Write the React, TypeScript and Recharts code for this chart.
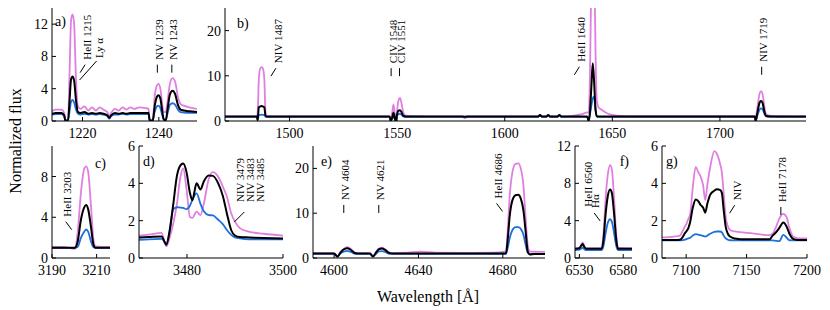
import React from 'react';
import { LineChart, Line, XAxis, YAxis, ReferenceDot } from 'recharts';

const FONT = '"Liberation Serif", "Times New Roman", "DejaVu Serif", serif';
const PINK = '#e07fe0';
const BLUE = '#1f6fdc';
const BLACK = '#000000';

// ---------- panel a ----------
const aX = [1212, 1213, 1214.5, 1215.2, 1215.5, 1216.2, 1216.6, 1217.0, 1217.4, 1217.8, 1218.3, 1218.8, 1219.5, 1220.5, 1221.5, 1222.5, 1223.5, 1224.5, 1225.5, 1226.5, 1227.0, 1227.5, 1228.5, 1229.5, 1230.5, 1231.5, 1232.5, 1233.5, 1235, 1236.5, 1237.3, 1237.6, 1238.4, 1238.9, 1239.5, 1239.9, 1240.4, 1240.9, 1241.3, 1241.8, 1242.3, 1242.9, 1243.6, 1244.3, 1245, 1245.7, 1246.5, 1248, 1250];
const aPink = [1.2, 1.4, 1.4, 1.0, 0.05, 0.05, 6, 12.5, 13.2, 12.0, 5, 1.8, 1.5, 1.8, 1.3, 1.7, 1.3, 1.7, 1.4, 1.1, 0.6, 1.0, 1.5, 1.3, 1.7, 1.4, 1.7, 1.5, 1.7, 1.6, 1.5, 0.05, 0.05, 3, 4.4, 4.6, 4.0, 2.0, 1.1, 1.1, 2.5, 4.6, 5.3, 4.8, 3.0, 2.1, 1.9, 1.7, 1.5];
const aBlack = [0.9, 1.0, 1.0, 0.7, 0.05, 0.05, 2.5, 5.2, 5.5, 5.0, 2.5, 1.1, 1.0, 1.1, 0.9, 1.0, 0.9, 1.0, 0.9, 0.7, 0.4, 0.7, 1.0, 0.9, 1.0, 0.9, 1.0, 1.0, 1.0, 1.0, 1.0, 0.05, 0.05, 1.8, 3.0, 3.2, 2.8, 1.2, 0.2, 0.1, 1.5, 3.3, 3.75, 3.3, 2.0, 1.4, 1.3, 1.2, 1.1];
const aBlue = [0.8, 0.85, 0.85, 0.6, 0.05, 0.05, 1.2, 2.4, 2.6, 2.3, 1.4, 0.9, 0.8, 0.9, 0.8, 0.85, 0.8, 0.85, 0.8, 0.6, 0.3, 0.6, 0.8, 0.8, 0.9, 0.8, 0.85, 0.85, 0.85, 0.85, 0.85, 0.05, 0.05, 1.1, 1.8, 1.9, 1.6, 0.7, 0.15, 0.1, 1.0, 2.0, 2.2, 2.0, 1.4, 1.1, 1.05, 1.0, 1.0];
const aXTicks = [1220, 1240];
const aYTicks = [0, 4, 8, 12];

// ---------- panel b ----------
const bX = [1470, 1484.8, 1485.2, 1485.7, 1486.3, 1487.0, 1487.7, 1488.3, 1488.8, 1489.3, 1546.5, 1547.0, 1547.6, 1548.3, 1548.9, 1549.3, 1549.9, 1550.6, 1551.3, 1552.0, 1552.8, 1554, 1560, 1580, 1581.5, 1583, 1615.5, 1616.4, 1617.3, 1619.3, 1620.2, 1621.1, 1624.5, 1625.4, 1626.3, 1632, 1636, 1638.3, 1639.0, 1639.6, 1640.3, 1640.9, 1641.5, 1642.2, 1642.8, 1643.6, 1645, 1648, 1652, 1660, 1716.2, 1716.6, 1717.4, 1718.4, 1719.1, 1719.8, 1720.7, 1721.5, 1723, 1730, 1740];
const bPink = [1.0, 1.0, 2.0, 9.0, 11.5, 11.9, 11.5, 9.0, 2.0, 1.0, 1.0, 0.1, 1.5, 3.7, 1.5, 0.1, 2.0, 4.5, 5.1, 4.0, 2.0, 1.2, 1.05, 1.0, 0.6, 1.0, 1.0, 1.2, 1.0, 1.0, 1.2, 1.0, 1.0, 1.2, 1.0, 1.2, 1.5, 1.9, 1.8, 10, 35, 55, 40, 15, 4.5, 3.0, 2.5, 1.6, 1.2, 1.05, 1.05, 0.8, 3.0, 6.0, 6.6, 6.0, 3.0, 1.5, 1.2, 1.05, 1.0];
const bBlack = [1.0, 1.0, 0.2, 3.0, 3.2, 3.3, 3.2, 3.0, 1.2, 1.0, 1.0, 0.1, 0.6, 1.8, 0.6, 0.1, 1.4, 2.3, 2.4, 2.0, 1.2, 1.0, 1.0, 1.0, 0.95, 1.0, 1.0, 1.3, 1.0, 1.0, 1.3, 1.0, 1.0, 1.3, 1.0, 1.0, 1.0, 1.0, 0.05, 2.0, 8.0, 12.8, 9.0, 2.5, 1.1, 1.0, 1.0, 1.0, 1.0, 1.0, 1.0, 0.05, 1.8, 4.0, 4.4, 4.0, 2.0, 1.1, 1.0, 1.0, 1.0];
const bBlue = [0.9, 0.9, 0.2, 1.3, 1.35, 1.4, 1.35, 1.3, 1.0, 0.9, 0.9, 0.1, 0.4, 1.1, 0.5, 0.1, 1.0, 1.5, 1.6, 1.4, 1.0, 0.9, 0.9, 0.9, 0.85, 0.9, 0.9, 1.3, 0.9, 0.9, 1.3, 0.9, 0.9, 1.3, 0.9, 0.9, 0.9, 0.9, 0.05, 1.5, 3.5, 5.0, 5.4, 2.5, 1.0, 0.9, 0.9, 0.9, 0.9, 0.9, 0.9, 0.05, 1.2, 2.5, 2.8, 2.6, 1.6, 1.0, 0.95, 0.9, 0.9];
const bXTicks = [1500, 1550, 1600, 1650, 1700];
const bYTicks = [0, 10, 20];

// ---------- panel c ----------
const cX = [3190, 3195, 3200.2, 3201.5, 3203, 3204.5, 3205.3, 3206.2, 3207.5, 3208.6, 3209.5, 3212, 3216];
const cPink = [1.1, 1.1, 0.9, 2.5, 6.5, 8.8, 9.0, 8.5, 5.0, 1.8, 1.15, 1.1, 1.1];
const cBlack = [1.0, 1.0, 1.0, 1.6, 3.8, 5.0, 5.2, 4.8, 3.0, 1.3, 1.0, 1.0, 1.0];
const cBlue = [1.0, 1.0, 1.0, 1.1, 2.0, 2.6, 2.8, 2.6, 1.6, 1.05, 1.0, 1.0, 1.0];
const cXTicks = [3190, 3210];
const cYTicks = [0, 4, 8];

// ---------- panel d ----------
const dX = [3470, 3472, 3474.7, 3475.7, 3476.4, 3477.1, 3477.9, 3478.6, 3479.2, 3479.9, 3480.6, 3481.1, 3482.0, 3482.8, 3483.5, 3484.5, 3485.4, 3486.5, 3487.5, 3488.3, 3489.2, 3490.0, 3491.0, 3493, 3496, 3500];
const dPink = [1.2, 1.25, 1.35, 0.62, 1.1, 1.8, 2.9, 4.3, 4.8, 3.7, 2.2, 2.15, 2.48, 2.3, 2.9, 4.2, 4.6, 4.35, 3.8, 3.3, 2.4, 1.95, 1.6, 1.4, 1.3, 1.2];
const dBlack = [1.1, 1.12, 1.15, 0.71, 1.5, 2.8, 4.4, 4.95, 5.06, 4.6, 3.5, 3.1, 4.0, 3.67, 4.1, 4.42, 4.4, 4.0, 3.3, 2.4, 1.5, 1.2, 1.12, 1.1, 1.07, 1.05];
const dBlue = [0.97, 1.0, 1.02, 0.8, 1.4, 2.6, 2.72, 2.7, 2.68, 2.62, 2.8, 3.1, 3.46, 2.9, 2.5, 2.3, 2.28, 2.05, 1.8, 1.5, 1.24, 1.1, 1.05, 1.0, 1.0, 1.0];
const dXTicks = [3480, 3500];
const dYTicks = [0, 2, 4, 6];

// ---------- panel e ----------
const eX = [4590, 4600, 4601.6, 4603, 4604.5, 4606.1, 4607.7, 4609.5, 4611, 4617, 4618.4, 4620, 4621.3, 4622.7, 4624.2, 4626, 4628, 4635, 4640.8, 4648, 4660, 4675, 4681.5, 4682.3, 4683.3, 4684.5, 4686, 4687.3, 4688.5, 4689.8, 4690.8, 4691.8, 4692.8, 4695, 4700];
const ePink = [1.1, 1.1, 0.4, 1.3, 2.0, 2.4, 2.1, 1.3, 1.1, 1.1, 0.4, 1.4, 2.1, 2.3, 1.9, 1.25, 1.1, 1.2, 1.4, 1.2, 1.15, 1.2, 1.5, 6, 14, 19, 21, 21.1, 20, 16, 9, 3, 1.5, 1.4, 1.35];
const eBlack = [1.0, 1.0, 0.3, 1.2, 1.9, 2.2, 1.9, 1.2, 1.0, 1.0, 0.3, 1.3, 1.95, 2.1, 1.8, 1.15, 1.0, 1.0, 1.0, 1.0, 1.0, 1.0, 1.0, 4, 9.5, 12.8, 14, 14.1, 13.3, 10.5, 6, 1.5, 0.8, 0.9, 0.9];
const eBlue = [0.9, 0.9, 0.4, 1.0, 1.4, 1.6, 1.4, 1.0, 0.9, 0.9, 0.4, 1.0, 1.45, 1.55, 1.35, 0.95, 0.9, 0.9, 0.9, 0.9, 0.9, 0.9, 1.0, 2.2, 4.5, 6.2, 6.9, 6.9, 6.5, 5.2, 3, 1.2, 0.9, 0.9, 0.9];
const eXTicks = [4600, 4640, 4680];
const eYTicks = [0, 10, 20];

// ---------- panel f ----------
const fX = [6525, 6530, 6532, 6533.8, 6535.5, 6537.5, 6555.5, 6557.5, 6560, 6562.5, 6565, 6567, 6569.5, 6572, 6574, 6590];
const fPink = [1.0, 1.1, 1.4, 1.65, 1.3, 1.05, 1.05, 2.5, 6.5, 9.0, 9.95, 9.5, 6.5, 2.5, 1.1, 1.05];
const fBlack = [1.0, 1.05, 1.3, 1.5, 1.2, 1.0, 1.0, 2.0, 4.8, 6.7, 7.35, 7.0, 4.8, 2.0, 1.0, 1.0];
const fBlue = [0.85, 0.9, 1.0, 1.1, 0.95, 0.85, 0.85, 1.3, 2.7, 3.8, 4.15, 3.9, 2.7, 1.3, 0.85, 0.85];
const fXTicks = [6530, 6580];
const fYTicks = [0, 4, 8, 12];

// ---------- panel g ----------
const gX = [7080, 7090, 7094.9, 7096.3, 7099, 7100.4, 7101.8, 7103.2, 7105.5, 7107.9, 7110, 7112, 7114, 7115.8, 7117.5, 7120, 7123.3, 7125.3, 7128, 7129.5, 7131, 7132.7, 7134.5, 7136.3, 7140, 7150, 7160, 7169, 7171.5, 7174, 7177, 7180.4, 7183, 7185.5, 7188.5, 7192, 7200];
const gPink = [1.1, 1.15, 1.2, 1.35, 1.7, 1.86, 2.1, 2.3, 3.8, 4.88, 4.6, 4.35, 3.9, 3.1, 3.9, 4.9, 5.73, 5.6, 5.06, 4.6, 3.5, 2.2, 1.7, 1.5, 1.42, 1.35, 1.28, 1.22, 1.3, 1.6, 2.1, 2.36, 2.2, 1.6, 1.15, 1.07, 1.05];
const gBlack = [0.97, 0.97, 0.98, 1.05, 1.33, 1.45, 1.6, 1.9, 2.7, 3.14, 3.05, 2.84, 2.7, 2.43, 2.9, 3.4, 3.6, 3.68, 3.65, 3.5, 2.6, 1.68, 1.3, 1.15, 1.05, 1.0, 1.0, 1.0, 1.2, 1.35, 1.6, 1.9, 1.7, 1.3, 1.02, 0.97, 0.97];
const gBlue = [0.94, 0.94, 0.94, 0.94, 0.98, 1.02, 1.05, 1.08, 1.2, 1.28, 1.25, 1.22, 1.18, 1.15, 1.2, 1.3, 1.4, 1.42, 1.42, 1.38, 1.2, 1.05, 0.98, 0.95, 0.94, 0.94, 0.94, 0.94, 0.94, 0.92, 0.9, 1.24, 1.1, 0.95, 0.94, 0.94, 0.94];
const gXTicks = [7100, 7150, 7200];
const gYTicks = [0, 2, 4, 6];

// ---------- line labels ----------
type Note = { x: number; y: number; text: string; mark: string };
const aNotes: Note[] = [
  { x: 1221.2, y: 7.6, text: 'HeII 1215', mark: '/' },
  { x: 1224.2, y: 7.8, text: 'Ly α', mark: 'long' },
  { x: 1240.0, y: 7.6, text: 'NV 1239', mark: 'v' },
  { x: 1243.8, y: 7.6, text: 'NV 1243', mark: 'v' },
];
const bNotes: Note[] = [
  { x: 1494.6, y: 12.8, text: 'NIV 1487', mark: '/' },
  { x: 1547.9, y: 12.8, text: 'CIV 1548', mark: 'v' },
  { x: 1551.8, y: 12.8, text: 'CIV 1551', mark: 'v' },
  { x: 1635.6, y: 13.1, text: 'HeII 1640', mark: '/' },
  { x: 1720.1, y: 13.1, text: 'NIV 1719', mark: 'v' },
];
const cNotes: Note[] = [{ x: 3196.6, y: 4.06, text: 'HeII 3203', mark: '\\' }];
const dNotes: Note[] = [
  { x: 3491.1, y: 3.0, text: 'NIV 3479', mark: 'd' },
  { x: 3493.2, y: 3.0, text: 'NIV 3483', mark: '' },
  { x: 3495.2, y: 3.0, text: 'NIV 3485', mark: '' },
];
const eNotes: Note[] = [
  { x: 4605.3, y: 12.96, text: 'NV 4604', mark: 'v' },
  { x: 4621.9, y: 12.96, text: 'NV 4621', mark: 'v' },
  { x: 4677.5, y: 13.3, text: 'HeII 4686', mark: '\\' },
];
const fNotes: Note[] = [
  { x: 6540.3, y: 5.5, text: 'HeII 6560', mark: '' },
  { x: 6548.0, y: 5.36, text: 'Hα', mark: '\\' },
];
const gNotes: Note[] = [
  { x: 7141.8, y: 3.1, text: 'NIV', mark: '/' },
  { x: 7179.6, y: 3.0, text: 'HeII 7178', mark: 'v' },
];

function NoteShape({ cx, cy, text, mark }: { cx: number; cy: number; text: string; mark: string }) {
  const segs: Record<string, number[]> = {
    v: [cx - 1.5, cy + 5, cx - 1.5, cy + 13],
    '/': [cx - 2, cy + 5, cx - 7, cy + 13],
    '\\': [cx - 1, cy + 5, cx + 5, cy + 13],
    long: [cx - 2, cy + 3, cx - 19, cy + 22],
    d: [cx + 4, cy + 10, cx - 6, cy + 20],
  };
  const s = segs[mark];
  return (
    <g>
      <text
        x={cx}
        y={cy}
        transform={`rotate(-90 ${cx} ${cy})`}
        fontSize={11}
        fontFamily={FONT}
        fill="#000"
        dominantBaseline="central"
        textAnchor="start"
      >
        {text}
      </text>
      {s && <line x1={s[0]} y1={s[1]} x2={s[2]} y2={s[3]} stroke="#000" strokeWidth={1} />}
    </g>
  );
}

type Box = { left: number; top: number; width: number; height: number };

const YW = 40;
const XH = 30;
const MT = 10;
const MR = 22;

function Panel(props: {
  box: Box;
  xDomain: [number, number];
  yDomain: [number, number];
  xTicks: number[];
  yTicks: number[];
  xs: number[];
  pink: number[];
  black: number[];
  blue: number[];
  notes: Note[];
}) {
  const { box, xDomain, yDomain, xTicks, yTicks, xs, pink, black, blue, notes } = props;
  const data = xs.map((x, i) => ({ x, p: pink[i], k: black[i], b: blue[i] }));
  const tickFont = { fontSize: 14, fill: '#000', fontFamily: FONT };
  const axisStroke = { stroke: '#000', strokeWidth: 1 };
  return (
    <div style={{ position: 'absolute', left: box.left - YW, top: box.top - MT }}>
      <LineChart
        width={box.width + YW + MR}
        height={box.height + XH + MT}
        data={data}
        margin={{ top: MT, right: MR, bottom: 0, left: 0 }}
      >
        <XAxis
          xAxisId="b"
          dataKey="x"
          type="number"
          domain={xDomain}
          ticks={xTicks}
          interval={0}
          allowDataOverflow
          orientation="bottom"
          height={XH}
          tickSize={-4}
          tickMargin={11}
          tick={tickFont}
          axisLine={axisStroke}
          tickLine={axisStroke}
        />
        <XAxis
          xAxisId="t"
          type="number"
          domain={xDomain}
          ticks={xTicks}
          interval={0}
          allowDataOverflow
          orientation="top"
          height={0}
          tickSize={-4}
          tick={false}
          axisLine={axisStroke}
          tickLine={axisStroke}
        />
        <YAxis
          yAxisId="l"
          type="number"
          domain={yDomain}
          ticks={yTicks}
          interval={0}
          allowDataOverflow
          width={YW}
          tickSize={-4}
          tickMargin={8}
          tick={tickFont}
          axisLine={axisStroke}
          tickLine={axisStroke}
        />
        <YAxis
          yAxisId="r"
          orientation="right"
          type="number"
          domain={yDomain}
          ticks={yTicks}
          interval={0}
          allowDataOverflow
          width={0}
          tickSize={-4}
          tick={false}
          axisLine={axisStroke}
          tickLine={axisStroke}
        />
        <Line xAxisId="b" yAxisId="l" dataKey="p" type="monotone" stroke={PINK} strokeWidth={1.8} dot={false} isAnimationActive={false} />
        <Line xAxisId="b" yAxisId="l" dataKey="b" type="monotone" stroke={BLUE} strokeWidth={1.8} dot={false} isAnimationActive={false} />
        <Line xAxisId="b" yAxisId="l" dataKey="k" type="monotone" stroke={BLACK} strokeWidth={2} dot={false} isAnimationActive={false} />
        {notes.map((n, i) => (
          <ReferenceDot
            key={i}
            xAxisId="b"
            yAxisId="l"
            x={n.x}
            y={n.y}
            r={0}
            shape={(p: any) => <NoteShape cx={p.cx} cy={p.cy} text={n.text} mark={n.mark} />}
          />
        ))}
      </LineChart>
    </div>
  );
}

const letterStyle = { fontSize: 14, fontFamily: FONT, fill: '#000' };

export default function App() {
  return (
    <div style={{ position: 'absolute', left: 0, top: 0, width: 830, height: 310, background: '#fff', overflow: 'hidden' }}>
      <Panel box={{ left: 52, top: 8, width: 145, height: 113 }} xDomain={[1212, 1250]} yDomain={[0, 14]} xTicks={aXTicks} yTicks={aYTicks} xs={aX} pink={aPink} black={aBlack} blue={aBlue} notes={aNotes} />
      <Panel box={{ left: 225, top: 8, width: 581, height: 113 }} xDomain={[1470, 1740]} yDomain={[0, 25]} xTicks={bXTicks} yTicks={bYTicks} xs={bX} pink={bPink} black={bBlack} blue={bBlue} notes={bNotes} />
      <Panel box={{ left: 52, top: 146, width: 58, height: 112 }} xDomain={[3190, 3216]} yDomain={[0, 11]} xTicks={cXTicks} yTicks={cYTicks} xs={cX} pink={cPink} black={cBlack} blue={cBlue} notes={cNotes} />
      <Panel box={{ left: 139, top: 146, width: 144, height: 112 }} xDomain={[3470, 3500]} yDomain={[0, 6]} xTicks={dXTicks} yTicks={dYTicks} xs={dX} pink={dPink} black={dBlack} blue={dBlue} notes={dNotes} />
      <Panel box={{ left: 313, top: 146, width: 232, height: 112 }} xDomain={[4590, 4700]} yDomain={[0, 25]} xTicks={eXTicks} yTicks={eYTicks} xs={eX} pink={ePink} black={eBlack} blue={eBlue} notes={eNotes} />
      <Panel box={{ left: 575, top: 146, width: 57, height: 112 }} xDomain={[6525, 6590]} yDomain={[0, 12]} xTicks={fXTicks} yTicks={fYTicks} xs={fX} pink={fPink} black={fBlack} blue={fBlue} notes={fNotes} />
      <Panel box={{ left: 662, top: 146, width: 145, height: 112 }} xDomain={[7080, 7200]} yDomain={[0, 6]} xTicks={gXTicks} yTicks={gYTicks} xs={gX} pink={gPink} black={gBlack} blue={gBlue} notes={gNotes} />
      <svg width={830} height={310} style={{ position: 'absolute', left: 0, top: 0, pointerEvents: 'none' }}>
        <text x={55} y={26} {...letterStyle}>a)</text>
        <text x={237} y={28} {...letterStyle}>b)</text>
        <text x={106} y={168} textAnchor="end" {...letterStyle}>c)</text>
        <text x={143} y={166} {...letterStyle}>d)</text>
        <text x={321} y={166} {...letterStyle}>e)</text>
        <text x={629} y={166} textAnchor="end" {...letterStyle}>f)</text>
        <text x={666} y={166} {...letterStyle}>g)</text>
        <text x={428} y={302} textAnchor="middle" fontSize={16} fontFamily={FONT} fill="#000">Wavelength [Å]</text>
        <text x={21} y={141} transform="rotate(-90 21 141)" textAnchor="middle" fontSize={16} fontFamily={FONT} fill="#000">Normalized flux</text>
      </svg>
    </div>
  );
}
